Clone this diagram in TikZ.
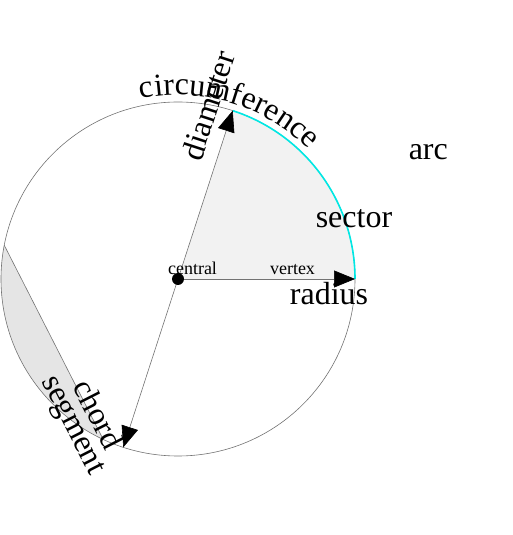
\documentclass[tikz,border=0pt]{standalone}
\usepackage{fontspec}
\setmainfont{Liberation Serif}
\usetikzlibrary{arrows.meta,decorations.text}
\definecolor{arccol}{RGB}{0,232,228}
\begin{document}
\begin{tikzpicture}[x=1pt,y=1pt,
  outline/.style={draw=black!55, line width=0.6pt},
  bigtri/.tip={Triangle[length=21pt,width=17pt,color=black]},
  big/.style={font=\fontsize{32}{38}\selectfont, inner sep=0pt, anchor=base},
  small/.style={font=\fontsize{18}{22}\selectfont, inner sep=0pt, anchor=base}]
\useasboundingbox (0,0) rectangle (512,535);
\coordinate (c) at (178,256);
\path (c) ++(0:177) coordinate (r1);
\path (c) ++(72:177) coordinate (d1);
\path (c) ++(252:177) coordinate (d2);
\path (c) ++(169:177) coordinate (ch1);
\path (c) ++(245:177) coordinate (ch2);
\path (c) ++(101.6:184) coordinate (t0);
% sector and segment fills
\fill[black!5] (c) -- (r1) arc[start angle=0,end angle=72,radius=177] -- cycle;
\fill[black!10] (ch1) arc[start angle=169,end angle=245,radius=177] -- cycle;
% circle
\draw[outline] (c) circle[radius=177];
% arc
\draw[arccol, line width=1.6pt] (r1) arc[start angle=0,end angle=72,radius=177];
% chord
\draw[outline] (ch1) -- (ch2);
% diameter and radius
\draw[outline, bigtri-bigtri] (d2) -- (d1);
\draw[outline, -bigtri] (c) -- (r1);
\node[circle, fill=black, inner sep=0pt, minimum size=12pt] (dot) at (c) {};
% circumference text
\path[decorate, decoration={text along path, text align=left,
  text={|\fontsize{32}{38}\selectfont|circumference}}]
  (t0) arc[start angle=101.6, end angle=20, radius=184];
% labels
\node[big, rotate=72] (ldiam) at (218.3,426.2) {diameter};
\node[big, rotate=-63] (lchord) at (89,116) {chord};
\node[big, rotate=-63] (lseg) at (66,106.4) {segment};
\node[big] (lrad) at (329,230) {radius};
\node[big] (lsec) at (354,307.7) {sector};
\node[big] (larc) at (428.3,375.7) {arc};
\node[small] (lcen) at (192.5,260) {central};
\node[small] (lver) at (292.5,260) {vertex};
\end{tikzpicture}
\end{document}
